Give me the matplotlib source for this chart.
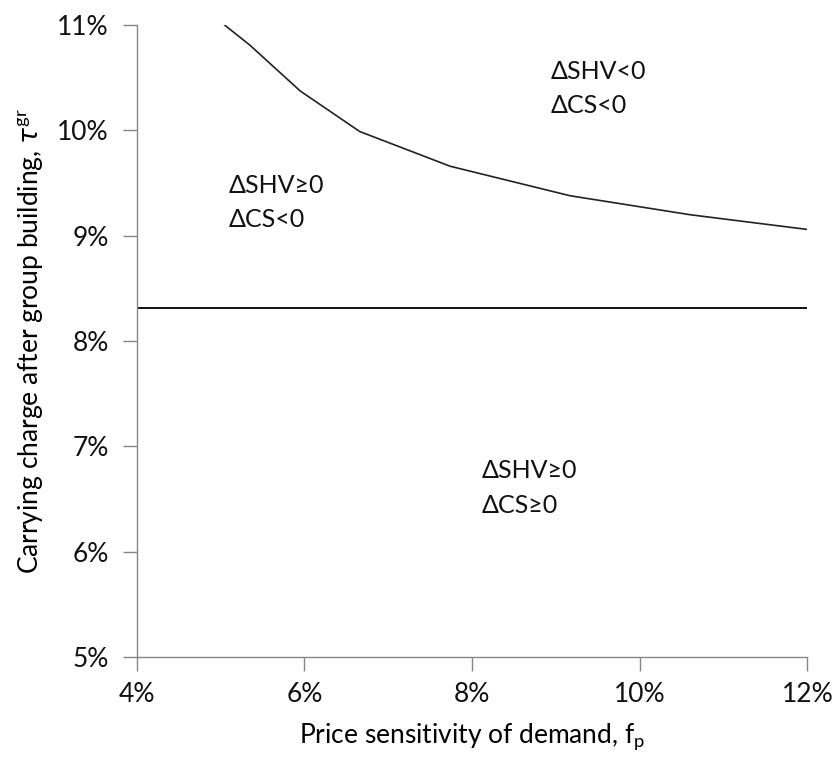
import matplotlib
matplotlib.use("Agg")
import matplotlib.pyplot as plt
from matplotlib.ticker import FuncFormatter

# boundary curve (x = price sensitivity %, y = carrying charge %)
curve_x = [5.05, 5.35, 5.95, 6.66, 7.74, 9.17, 10.60, 12.0]
curve_y = [11.0, 10.81, 10.375, 9.99, 9.66, 9.38, 9.20, 9.06]

# flat threshold line
flat_x = [4.0, 12.0]
flat_y = [8.31, 8.31]

# region labels
region_text = ["ΔSHV<0", "ΔCS<0", "ΔSHV≥0", "ΔCS<0", "ΔSHV≥0", "ΔCS≥0"]
region_x = [8.94, 8.94, 5.10, 5.10, 8.11, 8.11]
region_y = [10.556, 10.233, 9.473, 9.150, 6.766, 6.443]

x_ticks = [4, 6, 8, 10, 12]
y_ticks = [5, 6, 7, 8, 9, 10, 11]

plt.rcParams["font.family"] = ["Lato", "DejaVu Sans"]
plt.rcParams["mathtext.fontset"] = "dejavusans"

fig = plt.figure(figsize=(8.34, 7.63), dpi=100)
ax = fig.add_axes([0.164, 0.139, 0.804, 0.828])

ax.plot(flat_x, flat_y, color="#111111", lw=1.4)
ax.plot(curve_x, curve_y, color="#222222", lw=1.2)

for t, x, y in zip(region_text, region_x, region_y):
    ax.text(x, y, t, fontsize=18, va="center", ha="left", color="#111111")

ax.set_xlim(4, 12)
ax.set_ylim(5, 11)
ax.set_xticks(x_ticks)
ax.set_yticks(y_ticks)
pct = FuncFormatter(lambda v, p: f"{v:.0f}%")
ax.xaxis.set_major_formatter(pct)
ax.yaxis.set_major_formatter(pct)

for s in ["top", "right"]:
    ax.spines[s].set_visible(False)
for s in ["left", "bottom"]:
    ax.spines[s].set_color("#868686")
    ax.spines[s].set_linewidth(1.0)
ax.tick_params(direction="out", length=10, width=1.0, color="#868686",
               labelsize=19, labelcolor="#111111", pad=10)
ax.tick_params(axis="x", pad=8)

ax.set_xlabel(r"Price sensitivity of demand, f$_\mathregular{p}$", fontsize=19, labelpad=10)
ax.set_ylabel(r"Carrying charge after group building, $\tau^{\mathregular{gr}}$", fontsize=19, labelpad=8)

fig.savefig("out.png", dpi=100)
